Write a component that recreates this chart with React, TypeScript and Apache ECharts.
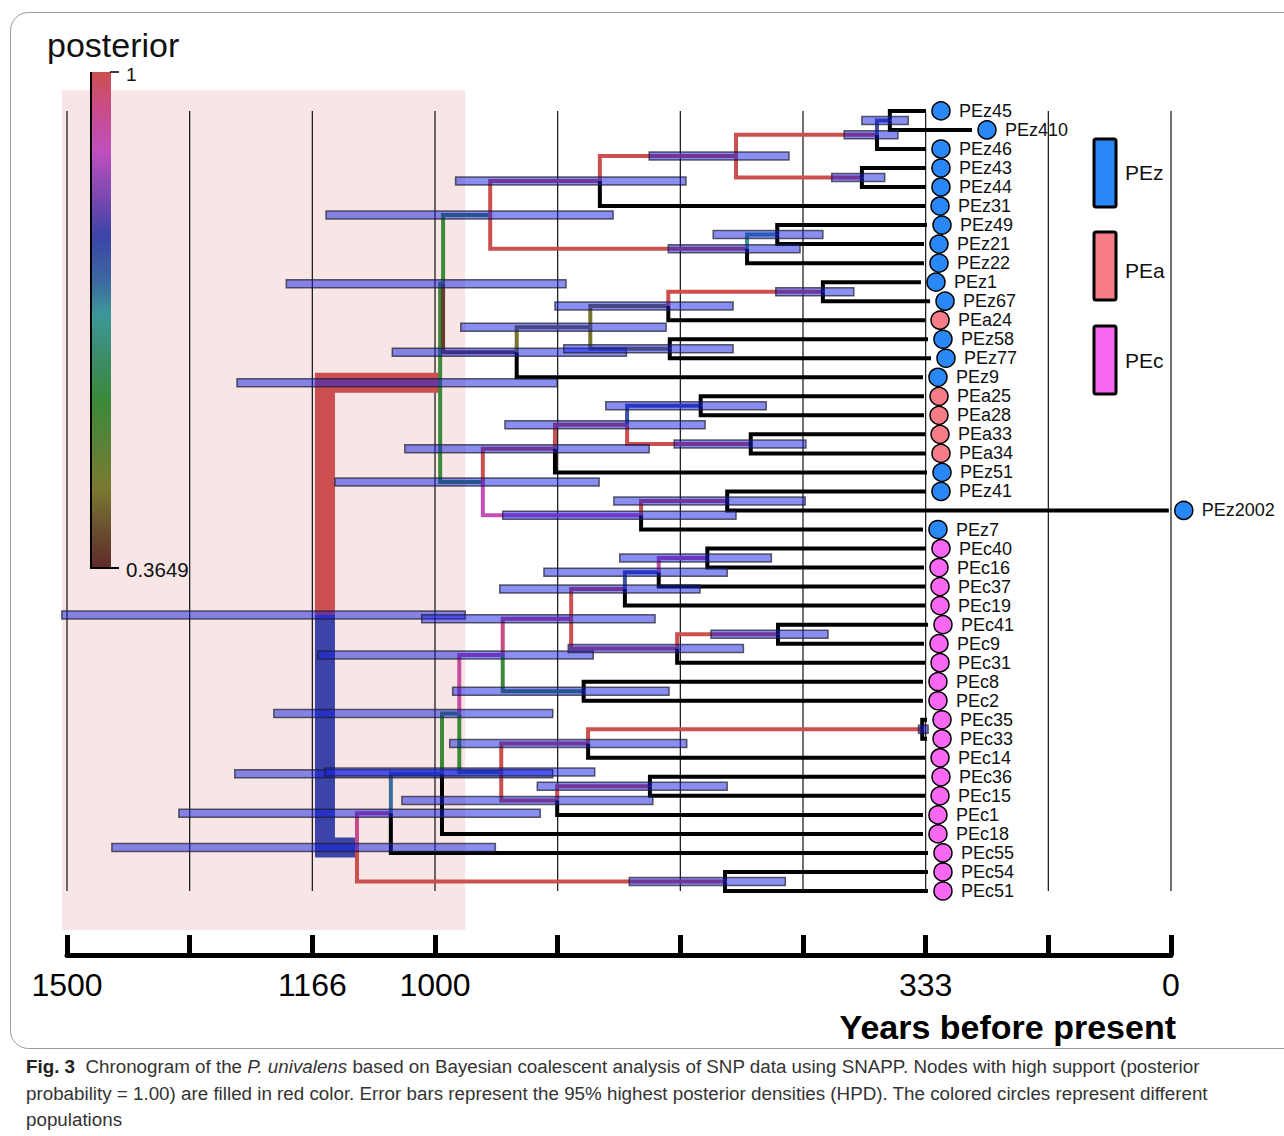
import React, { useEffect, useRef } from "react";
import * as echarts from "echarts";

// ---------- DATA ----------
const TIP_NAMES = ["PEz45","PEz410","PEz46","PEz43","PEz44","PEz31","PEz49","PEz21","PEz22","PEz1","PEz67","PEa24","PEz58","PEz77","PEz9","PEa25","PEa28","PEa33","PEa34","PEz51","PEz41","PEz2002","PEz7","PEc40","PEc16","PEc37","PEc19","PEc41","PEc9","PEc31","PEc8","PEc2","PEc35","PEc33","PEc14","PEc36","PEc15","PEc1","PEc18","PEc55","PEc54","PEc51"];
const TIP_AGES = [332.9,270.4,332.9,332.9,332.9,334.2,331.5,335.6,335.6,339.7,327.4,334.2,330.2,326.1,337.0,335.6,335.6,334.2,332.9,331.5,332.9,3.0,337.0,332.9,335.6,334.2,334.2,330.2,335.6,334.2,337.0,337.0,331.5,331.5,334.2,332.9,334.2,337.0,337.0,330.2,330.2,330.2];

const POPULATIONS = ["PEz", "PEa", "PEc"];
const POP_COLORS = ["#2a88f6", "#f67c88", "#f868f2"];

const NODE_IDS = ["root","O","N","F","E","D","B","A","C","G","H","M","L","J","I","K","X","Z","Y","P700","P751","W","P728","Q","R","S","P459","P503","P571","P625","P659","P707","P677","P778","P584","P501","P588","P922","P557","P650","T"];
const NODE_CHILDREN = [
  ["O","Q"],["N","X"],["F","M"],["E","G"],["D","PEz31"],["B","C"],["A","PEz46"],["PEz45","PEz410"],["PEz43","PEz44"],["H","PEz22"],["PEz49","PEz21"],
  ["L","PEz9"],["J","K"],["I","PEa24"],["PEz1","PEz67"],["PEz58","PEz77"],["Z","W"],["Y","PEz51"],["P700","P751"],["PEa25","PEa28"],["PEa33","PEa34"],
  ["P728","PEz7"],["PEz41","PEz2002"],["R","T"],["S","PEc55"],["P459","PEc18"],["P503","P501"],["P571","P584"],["P625","P677"],["P659","PEc19"],["P707","PEc37"],
  ["PEc40","PEc16"],["P778","PEc31"],["PEc41","PEc9"],["PEc8","PEc2"],["P588","P557"],["P922","PEc14"],["PEc35","PEc33"],["P650","PEc1"],["PEc36","PEc15"],["PEc54","PEc51"]
];
const NODE_AGES = [1149.5,993,989,925,776,591,399.5,382,420,576,535,889,789,683,473,681,935,837,739,639,571,720,603,1106,1060,990.5,967,908,815,742,696,630,671,534,798,910,792,338,834,708,606];
const NODE_POSTERIOR = [1,1,0.58,0.58,1,1,1,0.77,1,1,0.68,0.39,0.46,0.46,1,0.46,0.58,1,1,0.77,1,0.91,1,0.79,0.95,0.73,0.58,0.93,0.96,1,0.77,0.92,1,1,0.58,0.58,1,1,1,1,1];
const NODE_HPD_LOW = [959,834,822,758,659,519,371,357,389,504,473,740,686,595,431,595,777,709,633,550,496,591,497,918,857,840,840,785,701,640,603,543,581,466,682,783,658,330,704,603,524];
const NODE_HPD_HIGH = [1507,1269,1202,1148,972,709,444,420,461,683,622,1058,965,837,537,825,1136,1041,905,768,675,908,757,1439,1348,1272,1219,1159,1018,912,852,749,819,625,976,1150,980,343,1045,861,736];

const AXIS_TICKS = [0, 1, 2, 3, 4, 5, 6, 7, 8, 9].map((k) => (k * 1500) / 9);
const AXIS_LABEL_VALUES = [1500, 3500 / 3, 1000, 1000 / 3, 0];

const POST_MIN = 0.3649;
const POST_MAX = 1;
const CMAP_POS = [0, 0.08, 0.16, 0.25, 0.33, 0.42, 0.49, 0.57, 0.66, 0.75, 0.84, 0.92, 1];
const CMAP_COL = ["#cc5050","#c84c8c","#c050c0","#7c48b0","#3c44a8","#3c68a0","#3c9898","#3c8c6c","#3a8a3a","#5a8238","#7a7a30","#6a5030","#602a2a"];

// ---------- helpers ----------
function hexToRgb(h: string) {
  const v = parseInt(h.slice(1), 16);
  return [(v >> 16) & 255, (v >> 8) & 255, v & 255];
}
function postColor(p: number) {
  const f = Math.min(1, Math.max(0, (POST_MAX - p) / (POST_MAX - POST_MIN)));
  for (let i = 0; i < CMAP_POS.length - 1; i++) {
    if (f <= CMAP_POS[i + 1]) {
      const t = (f - CMAP_POS[i]) / (CMAP_POS[i + 1] - CMAP_POS[i]);
      const a = hexToRgb(CMAP_COL[i]);
      const b = hexToRgb(CMAP_COL[i + 1]);
      const c = a.map((x, k) => Math.round(x + (b[k] - x) * t));
      return `rgb(${c[0]},${c[1]},${c[2]})`;
    }
  }
  return CMAP_COL[CMAP_COL.length - 1];
}

export default function App() {
  const ref = useRef<HTMLDivElement>(null);
  useEffect(() => {
    if (!ref.current) return;
    const chart = echarts.init(ref.current, null, { renderer: "svg" });

    const rowOf: Record<string, number> = {};
    const ageOf: Record<string, number> = {};
    TIP_NAMES.forEach((n, i) => { rowOf[n] = i; ageOf[n] = TIP_AGES[i]; });
    NODE_IDS.forEach((n, i) => { ageOf[n] = NODE_AGES[i]; });
    const nodeIdx: Record<string, number> = {};
    NODE_IDS.forEach((n, i) => (nodeIdx[n] = i));
    const getRow = (id: string): number => {
      if (rowOf[id] !== undefined) return rowOf[id];
      const ch = NODE_CHILDREN[nodeIdx[id]];
      const r = (getRow(ch[0]) + getRow(ch[1])) / 2;
      rowOf[id] = r;
      return r;
    };
    NODE_IDS.forEach((n) => getRow(n));

    const edges: number[][] = [];
    const edgeColors: string[] = [];
    NODE_IDS.forEach((n, i) => {
      NODE_CHILDREN[i].forEach((c) => {
        const isTip = nodeIdx[c] === undefined;
        const width = n === "root" ? 20 : 4;
        edges.push([ageOf[n], rowOf[n], ageOf[c], rowOf[c], width]);
        edgeColors.push(isTip ? "#000" : postColor(NODE_POSTERIOR[nodeIdx[c]]));
      });
    });
    const hpd = NODE_IDS.map((n, i) => [NODE_HPD_LOW[i], NODE_HPD_HIGH[i], rowOf[n]]);
    const tips = TIP_NAMES.map((n, i) => [TIP_AGES[i], i, POPULATIONS.indexOf(n.slice(0, 3))]);
    const rootIdx = nodeIdx["root"];

    const stops = CMAP_POS.map((p, i) => ({ offset: p, color: CMAP_COL[i] }));
    const font = "'Liberation Sans', Arial, Helvetica, sans-serif";
    const capSize = 18.8;

    const option: any = {
      animation: false,
      grid: [
        { left: 59.64, top: 90, width: 1126.08, height: 840 },
        { left: 67, top: 935, width: 1104, height: 20 },
      ],
      xAxis: [
        { gridIndex: 0, type: "value", min: -20, max: 1510, inverse: true, show: false },
        {
          gridIndex: 1, type: "value", min: 0, max: 1500, inverse: true, position: "bottom",
          axisLine: { show: true, onZero: false, lineStyle: { color: "#000", width: 5 } },
          axisTick: { show: true, inside: true, length: 20, customValues: AXIS_TICKS, lineStyle: { color: "#000", width: 5 } },
          splitLine: { show: false },
          axisLabel: {
            show: true, customValues: AXIS_LABEL_VALUES, margin: 14, color: "#000", fontSize: 32, fontFamily: font,
            formatter: (v: number) => String(Math.floor(v + 1e-6)),
          },
        },
      ],
      yAxis: [
        { gridIndex: 0, type: "value", min: -1.1, max: 43.05, inverse: true, show: false },
        { gridIndex: 1, type: "value", min: 0, max: 1, show: false },
      ],
      series: [
        {
          type: "custom", xAxisIndex: 0, yAxisIndex: 0, clip: false, silent: true, z: 1,
          data: [[NODE_HPD_LOW[rootIdx], NODE_HPD_HIGH[rootIdx]]],
          renderItem: (params: any, api: any) => {
            const a = api.coord([api.value(1), -1.1]);
            const b = api.coord([api.value(0), 43.05]);
            return { type: "rect", shape: { x: a[0], y: a[1], width: b[0] - a[0], height: b[1] - a[1] }, style: { fill: "#f8e6e6" } };
          },
        },
        {
          type: "custom", xAxisIndex: 0, yAxisIndex: 0, clip: false, silent: true, z: 2,
          data: AXIS_TICKS.map((t) => [t]),
          renderItem: (params: any, api: any) => {
            const a = api.coord([api.value(0), 0]);
            const b = api.coord([api.value(0), TIP_NAMES.length - 1]);
            return { type: "line", shape: { x1: a[0], y1: a[1], x2: b[0], y2: b[1] }, style: { stroke: "#111", lineWidth: 1.2 } };
          },
        },
        {
          type: "custom", xAxisIndex: 0, yAxisIndex: 0, clip: false, silent: true, z: 3,
          data: edges,
          renderItem: (params: any, api: any) => {
            const p0 = api.coord([api.value(0), api.value(1)]);
            const p1 = api.coord([api.value(2), api.value(3)]);
            return {
              type: "polyline",
              shape: { points: [p0, [p0[0], p1[1]], p1] },
              style: { stroke: edgeColors[params.dataIndex], lineWidth: api.value(4), fill: null, lineJoin: "miter", lineCap: "butt" },
            };
          },
        },
        {
          type: "custom", xAxisIndex: 0, yAxisIndex: 0, clip: false, silent: true, z: 4,
          data: hpd,
          renderItem: (params: any, api: any) => {
            const a = api.coord([api.value(1), api.value(2)]);
            const b = api.coord([api.value(0), api.value(2)]);
            return {
              type: "rect",
              shape: { x: a[0], y: a[1] - 4, width: b[0] - a[0], height: 8 },
              style: { fill: "rgba(20,30,225,0.5)", stroke: "rgba(30,30,40,0.7)", lineWidth: 1.5 },
            };
          },
        },
        {
          type: "custom", xAxisIndex: 0, yAxisIndex: 0, clip: false, silent: true, z: 5,
          data: tips,
          renderItem: (params: any, api: any) => {
            const p = api.coord([api.value(0), api.value(1)]);
            const pop = api.value(2);
            return {
              type: "group",
              children: [
                { type: "circle", shape: { cx: p[0] + 15, cy: p[1], r: 9 }, style: { fill: POP_COLORS[pop], stroke: "#000", lineWidth: 1.5 } },
                {
                  type: "text", x: p[0] + 33, y: p[1],
                  style: { text: TIP_NAMES[params.dataIndex], fill: "#111", fontSize: 18, fontFamily: font, verticalAlign: "middle", align: "left" },
                },
              ],
            };
          },
        },
      ],
      graphic: [
        { type: "rect", shape: { x: 10.5, y: 12.5, width: 1300, height: 1036, r: 18 }, style: { fill: "none", stroke: "#9a9a9a", lineWidth: 1 }, z: 0 },
        { type: "text", x: 47, y: 45, style: { text: "posterior", fontSize: 34, fontFamily: font, fill: "#111", verticalAlign: "middle" }, z: 10 },
        { type: "rect", shape: { x: 91, y: 72, width: 20, height: 496 }, style: { fill: new echarts.graphic.LinearGradient(0, 0, 0, 1, stops) }, z: 10 },
        { type: "line", shape: { x1: 91, y1: 72, x2: 91, y2: 569 }, style: { stroke: "#000", lineWidth: 2 }, z: 11 },
        { type: "line", shape: { x1: 90, y1: 568, x2: 119, y2: 568 }, style: { stroke: "#000", lineWidth: 2 }, z: 11 },
        { type: "line", shape: { x1: 110, y1: 72, x2: 119, y2: 72 }, style: { stroke: "#000", lineWidth: 1.5 }, z: 11 },
        { type: "text", x: 126, y: 74, style: { text: "1", fontSize: 19, fontFamily: font, fill: "#111", verticalAlign: "middle" }, z: 11 },
        { type: "text", x: 126, y: 569, style: { text: "0.3649", fontSize: 20.5, fontFamily: font, fill: "#111", verticalAlign: "middle" }, z: 11 },
        ...POPULATIONS.map((p, i) => ({
          type: "group", z: 10,
          children: [
            { type: "rect", shape: { x: 1094, y: [139, 232, 326][i], width: 22, height: 68, r: 2 }, style: { fill: POP_COLORS[i], stroke: "#000", lineWidth: 3 } },
            { type: "text", x: 1125, y: [172, 270, 360][i], style: { text: p, fontSize: 21, fontFamily: font, fill: "#111", verticalAlign: "middle" } },
          ],
        })),
        { type: "text", x: 1176, y: 1027, style: { text: "Years before present", fontSize: 34, fontWeight: "bold", fontFamily: font, fill: "#000", align: "right", verticalAlign: "middle" }, z: 10 },
        {
          type: "text", x: 26, y: 1066, z: 10,
          style: {
            text: "{b|Fig. 3}  Chronogram of the {i|P. univalens} based on Bayesian coalescent analysis of SNP data using SNAPP. Nodes with high support (posterior",
            fontSize: capSize, fontFamily: font, fill: "#333", verticalAlign: "middle",
            rich: { b: { fontWeight: "bold", fontSize: capSize, fontFamily: font, fill: "#222" }, i: { fontStyle: "italic", fontSize: capSize, fontFamily: font, fill: "#333" } },
          },
        },
        { type: "text", x: 26, y: 1093, z: 10, style: { text: "probability = 1.00) are filled in red color. Error bars represent the 95% highest posterior densities (HPD). The colored circles represent different", fontSize: capSize, fontFamily: font, fill: "#333", verticalAlign: "middle" } },
        { type: "text", x: 26, y: 1119, z: 10, style: { text: "populations", fontSize: capSize, fontFamily: font, fill: "#333", verticalAlign: "middle" } },
      ],
    };
    chart.setOption(option);
    return () => chart.dispose();
  }, []);
  return <div ref={ref} style={{ position: "absolute", left: 0, top: 0, width: 1284, height: 1136, background: "#fff" }} />;
}
